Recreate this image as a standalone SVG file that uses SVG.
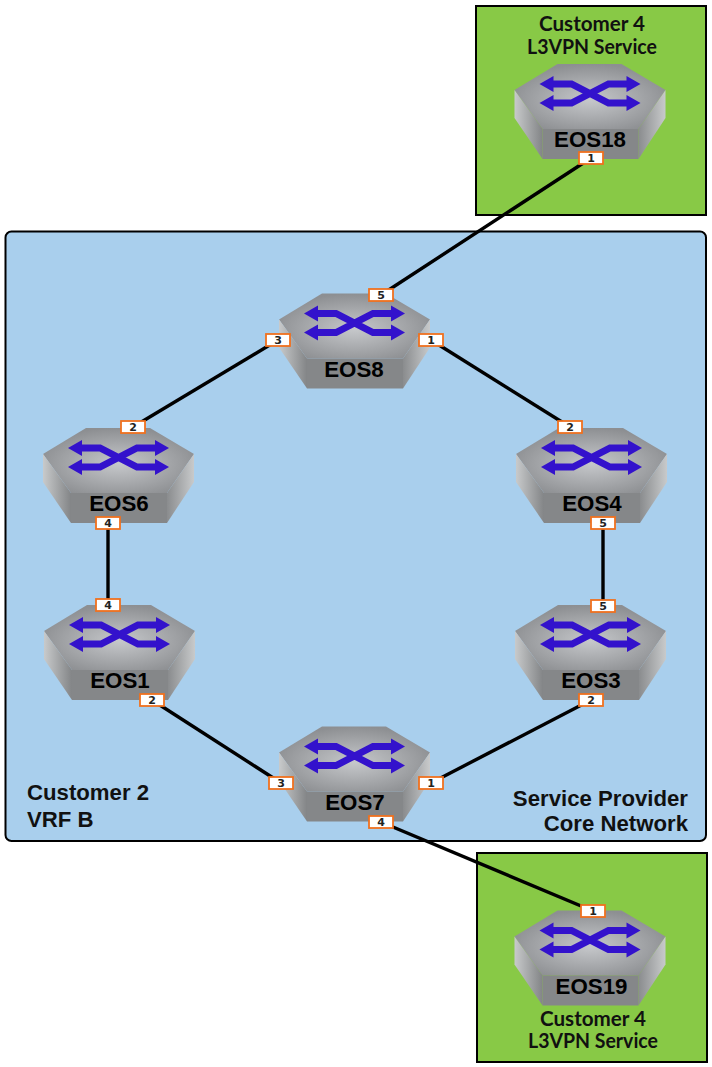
<svg xmlns="http://www.w3.org/2000/svg" width="712" height="1067" viewBox="0 0 712 1067">
<style>
.zone{stroke:#000;stroke-width:2}
.blue{fill:#a9cfed}
.green{fill:#88c946}
.link{stroke:#000;stroke-width:3.400;fill:none}
.title{font:bold 20.500px Lato,"Liberation Sans",sans-serif;text-anchor:middle;fill:#111}
.note{font:bold 22.200px "Liberation Sans",Arial,sans-serif;fill:#111}
.name{font:bold 22.300px "Liberation Sans",Arial,sans-serif;text-anchor:middle;fill:#000}
.port rect{fill:#fff;stroke:#f0711e;stroke-width:1.800}
.port text{font:bold 11px "DejaVu Sans",sans-serif;text-anchor:middle;fill:#222}
</style>
<defs>
<radialGradient id="top" cx="0.5" cy="0.55" r="0.55"><stop offset="0" stop-color="#c6c8cb"/><stop offset="1" stop-color="#8d8f92"/></radialGradient>
<linearGradient id="left" x1="0" x2="1" y1="0" y2="0"><stop offset="0" stop-color="#c8cacb"/><stop offset="1" stop-color="#838587"/></linearGradient>
<linearGradient id="right" x1="0" x2="1" y1="0" y2="0"><stop offset="0" stop-color="#8a8c8e"/><stop offset="1" stop-color="#c8cacb"/></linearGradient>
<g id="sw">
<polygon points="43,0 107,0 151,26 124,65 28,65 0,26" fill="url(#top)"/>
<polygon points="0,26 28,65 28,95 0,54" fill="url(#left)"/>
<polygon points="151,26 124,65 124,95 151,54" fill="url(#right)"/>
<rect x="28" y="65" width="96" height="30" fill="#858789"/>
<path d="M36,20H57L94,39H116M36,39H57L94,20H116" fill="none" stroke="#3312cc" stroke-width="6.800"/>
<path d="M25,20L39,12V28ZM126,20L112,12V28ZM25,39L39,31V47ZM126,39L112,31V47Z" fill="#3312cc"/>
</g>
</defs>

<rect class="zone blue" x="5.500" y="231.500" width="700.500" height="609.500" rx="6"/>
<rect class="zone green" x="476" y="6" width="230" height="209"/>
<rect class="zone green" x="477" y="853" width="230" height="209"/>

<text class="title" x="592" y="31" textLength="106" lengthAdjust="spacingAndGlyphs">Customer 4</text>
<text class="title" x="592" y="54" textLength="130" lengthAdjust="spacingAndGlyphs">L3VPN Service</text>
<text class="title" x="593" y="1026" textLength="106" lengthAdjust="spacingAndGlyphs">Customer 4</text>
<text class="title" x="593" y="1048" textLength="130" lengthAdjust="spacingAndGlyphs">L3VPN Service</text>
<text class="note" x="27" y="800">Customer 2</text>
<text class="note" x="27" y="827">VRF B</text>
<text class="note" x="688" y="806" text-anchor="end">Service Provider</text>
<text class="note" x="688" y="831" text-anchor="end">Core Network</text>

<g id="connectors">
<line class="link" x1="591" y1="158" x2="381" y2="295"/>
<line class="link" x1="278" y1="340" x2="133" y2="427"/>
<line class="link" x1="431" y1="340" x2="570" y2="427"/>
<line class="link" x1="108" y1="523" x2="108" y2="605"/>
<line class="link" x1="603" y1="523" x2="603" y2="606"/>
<line class="link" x1="152" y1="700" x2="281" y2="783"/>
<line class="link" x1="591" y1="700" x2="431" y2="783"/>
<line class="link" x1="381" y1="822" x2="593" y2="911"/>
</g>

<g id="EOS18"><use href="#sw" x="514.500" y="64"/><text class="name" x="590" y="147">EOS18</text>
<g class="port" transform="translate(591 158)"><rect x="-12" y="-6" width="24" height="12"/><text y="4">1</text></g></g>
<g id="EOS8"><use href="#sw" x="279" y="293.500"/><text class="name" x="354" y="377">EOS8</text>
<g class="port" transform="translate(381 295)"><rect x="-12" y="-6" width="24" height="12"/><text y="4">5</text></g>
<g class="port" transform="translate(278 340)"><rect x="-12" y="-6" width="24" height="12"/><text y="4">3</text></g>
<g class="port" transform="translate(431 340)"><rect x="-12" y="-6" width="24" height="12"/><text y="4">1</text></g></g>
<g id="EOS6"><use href="#sw" x="43" y="428"/><text class="name" x="119" y="511">EOS6</text>
<g class="port" transform="translate(133 427)"><rect x="-12" y="-6" width="24" height="12"/><text y="4">2</text></g>
<g class="port" transform="translate(108 523)"><rect x="-12" y="-6" width="24" height="12"/><text y="4">4</text></g></g>
<g id="EOS4"><use href="#sw" x="516" y="428"/><text class="name" x="592" y="511">EOS4</text>
<g class="port" transform="translate(570 427)"><rect x="-12" y="-6" width="24" height="12"/><text y="4">2</text></g>
<g class="port" transform="translate(603 523)"><rect x="-12" y="-6" width="24" height="12"/><text y="4">5</text></g></g>
<g id="EOS1"><use href="#sw" x="44" y="605"/><text class="name" x="120" y="688">EOS1</text>
<g class="port" transform="translate(108 605)"><rect x="-12" y="-6" width="24" height="12"/><text y="4">4</text></g>
<g class="port" transform="translate(152 700)"><rect x="-12" y="-6" width="24" height="12"/><text y="4">2</text></g></g>
<g id="EOS3"><use href="#sw" x="515" y="605"/><text class="name" x="591" y="688">EOS3</text>
<g class="port" transform="translate(603 606)"><rect x="-12" y="-6" width="24" height="12"/><text y="4">5</text></g>
<g class="port" transform="translate(591 700)"><rect x="-12" y="-6" width="24" height="12"/><text y="4">2</text></g></g>
<g id="EOS7"><use href="#sw" x="279" y="726.500"/><text class="name" x="355" y="810">EOS7</text>
<g class="port" transform="translate(281 783)"><rect x="-12" y="-6" width="24" height="12"/><text y="4">3</text></g>
<g class="port" transform="translate(431 783)"><rect x="-12" y="-6" width="24" height="12"/><text y="4">1</text></g>
<g class="port" transform="translate(381 822)"><rect x="-12" y="-6" width="24" height="12"/><text y="4">4</text></g></g>
<g id="EOS19"><use href="#sw" x="514.500" y="910.500"/><text class="name" x="591.500" y="994">EOS19</text>
<g class="port" transform="translate(593 911)"><rect x="-12" y="-6" width="24" height="12"/><text y="4">1</text></g></g>
</svg>
